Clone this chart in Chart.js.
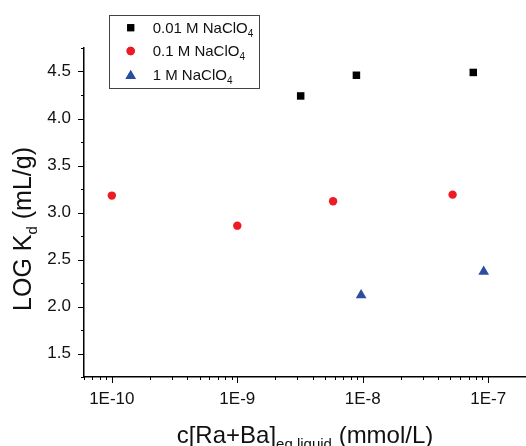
<!DOCTYPE html>
<html>
<head>
<meta charset="utf-8">
<script src="https://cdn.jsdelivr.net/npm/chart.js@4"></script>
<style>
  html, body { margin: 0; padding: 0; background: #fff; }
  canvas { display: block; }
</style>
</head>
<body>
<canvas id="chart" width="526" height="446"></canvas>
<script>
// ---- data ----
const conc001 = [3.2e-9, 8.9e-9, 7.6e-8];
const logKd001 = [4.24, 4.46, 4.49];
const conc01 = [1.0e-10, 1.0e-9, 5.8e-9, 5.2e-8];
const logKd01 = [3.18, 2.86, 3.12, 3.19];
const conc1 = [9.7e-9, 9.2e-8];
const logKd1 = [2.12, 2.37];

const xTicks = [1e-10, 1e-9, 1e-8, 1e-7];
const xTickLabels = ["1E-10", "1E-9", "1E-8", "1E-7"];
const yTicks = [1.5, 2.0, 2.5, 3.0, 3.5, 4.0, 4.5];

const seriesNames = ["0.01 M NaClO", "0.1 M NaClO", "1 M NaClO"];
const seriesColors = ["#000000", "#ed1c24", "#2b4ea0"];

const FONT = "'Liberation Sans', Arial, sans-serif";

function toPoints(xs, ys) {
  return xs.map((x, i) => ({ x: x, y: ys[i] }));
}

// axis tick marks (major + minor) and tick labels, drawn outward like the original
const tickMarks = {
  id: "tickMarks",
  afterDraw(chart) {
    const ctx = chart.ctx;
    const xs = chart.scales.x, ys = chart.scales.y;
    const area = chart.chartArea;
    ctx.save();
    ctx.strokeStyle = "#000";
    ctx.lineWidth = 1;
    // y ticks every 0.25
    for (let v = 1.25; v <= 4.751; v += 0.25) {
      const py = Math.round(ys.getPixelForValue(v)) + 0.5;
      const major = Math.abs(v * 2 - Math.round(v * 2)) < 1e-6;
      ctx.beginPath();
      ctx.moveTo(area.left, py);
      ctx.lineTo(area.left - (major ? 6 : 3), py);
      ctx.stroke();
    }
    // x ticks 1..9 per decade
    for (let e = -11; e <= -7; e++) {
      for (let m = 1; m <= 9; m++) {
        const v = m * Math.pow(10, e);
        if (v < xs.min * 0.999 || v > xs.max * 1.001) continue;
        const px = Math.round(xs.getPixelForValue(v)) + 0.5;
        ctx.beginPath();
        ctx.moveTo(px, area.bottom);
        ctx.lineTo(px, area.bottom + (m === 1 ? 6 : 3));
        ctx.stroke();
      }
    }
    // tick labels
    ctx.fillStyle = "#111";
    ctx.font = "17px " + FONT;
    ctx.textAlign = "center";
    ctx.textBaseline = "alphabetic";
    xTicks.forEach((v, i) => {
      ctx.fillText(xTickLabels[i], xs.getPixelForValue(v), area.bottom + 26.5);
    });
    ctx.textAlign = "right";
    ctx.textBaseline = "middle";
    yTicks.forEach(v => {
      ctx.fillText(v.toFixed(1), area.left - 13, ys.getPixelForValue(v));
    });
    ctx.restore();
  }
};

// axis titles with subscripts
const axisTitles = {
  id: "axisTitles",
  afterDraw(chart) {
    const ctx = chart.ctx;
    const area = chart.chartArea;
    ctx.save();
    ctx.fillStyle = "#111";
    ctx.textBaseline = "alphabetic";
    ctx.textAlign = "left";

    // x title: c[Ra+Ba]eq liquid (mmol/L)
    const big = "24px " + FONT, small = "15px " + FONT;
    ctx.font = big;
    const a = "c[Ra+Ba]", c = " (mmol/L)";
    const wa = ctx.measureText(a).width, wc = ctx.measureText(c).width;
    ctx.font = small;
    const b = "eq liquid";
    const wb = ctx.measureText(b).width;
    let x = (area.left + area.right) / 2 - (wa + wb + wc) / 2;
    const base = 443;
    ctx.font = big; ctx.fillText(a, x, base); x += wa;
    ctx.font = small; ctx.fillText(b, x, base + 6); x += wb;
    ctx.font = big; ctx.fillText(c, x, base);

    // y title: LOG Kd (mL/g)
    const bigY = "25px " + FONT;
    ctx.translate(31, 229);
    ctx.rotate(-Math.PI / 2);
    ctx.font = bigY;
    const ya = "LOG K", yc = " (mL/g)";
    const wya = ctx.measureText(ya).width, wyc = ctx.measureText(yc).width;
    ctx.font = small;
    const yb = "d";
    const wyb = ctx.measureText(yb).width;
    let t = -(wya + wyb + wyc) / 2;
    ctx.font = bigY; ctx.fillText(ya, t, 0); t += wya;
    ctx.font = small; ctx.fillText(yb, t, 6); t += wyb;
    ctx.font = bigY; ctx.fillText(yc, t, 0);
    ctx.restore();
  }
};

// legend box with subscript 4
const legendBox = {
  id: "legendBox",
  afterDraw(chart) {
    const ctx = chart.ctx;
    const styles = ["rect", "circle", "triangle"];
    const rows = [27.7, 51, 74.5];
    const radii = [5, 4.2, 6];
    ctx.save();
    ctx.strokeStyle = "#444";
    ctx.lineWidth = 1;
    ctx.strokeRect(109.5, 15.5, 150, 73);
    rows.forEach((ry, i) => {
      ctx.fillStyle = seriesColors[i];
      Chart.helpers.drawPoint(ctx, {
        pointStyle: styles[i], radius: radii[i], rotation: 0, borderWidth: 0
      }, 130.7, i === 2 ? ry + 1.5 : ry);
      ctx.fill();
      ctx.fillStyle = "#111";
      ctx.textBaseline = "alphabetic";
      ctx.textAlign = "left";
      ctx.font = "15px " + FONT;
      const label = seriesNames[i];
      ctx.fillText(label, 152.7, ry + 5);
      const w = ctx.measureText(label).width;
      ctx.font = "10px " + FONT;
      ctx.fillText("4", 152.7 + w, ry + 9);
    });
    ctx.restore();
  }
};

function makeDataset(label, xs, ys, style, color, radius) {
  return {
    label: label,
    data: toPoints(xs, ys),
    pointStyle: style,
    pointRadius: radius,
    pointHoverRadius: radius,
    backgroundColor: color,
    borderColor: color,
    pointBorderWidth: 0,
    showLine: false
  };
}

new Chart(document.getElementById("chart"), {
  type: "scatter",
  data: {
    datasets: [
      makeDataset(seriesNames[0], conc001, logKd001, "rect", seriesColors[0], 5.3),
      makeDataset(seriesNames[1], conc01, logKd01, "circle", seriesColors[1], 4.2),
      makeDataset(seriesNames[2], conc1, logKd1, "triangle", seriesColors[2], 6.2)
    ]
  },
  options: {
    responsive: false,
    animation: false,
    // no auto padding for point radius: the x axis runs to the canvas edge
    layout: { autoPadding: false, padding: { top: 48, right: 0, left: 0, bottom: 0 } },
    plugins: {
      legend: { display: false },
      tooltip: { enabled: false }
    },
    scales: {
      x: {
        type: "logarithmic",
        min: 6e-11,
        max: 2e-7,
        grid: { display: false },
        border: { display: true, color: "#000", width: 1.5 },
        afterFit(scale) { scale.height = 69; },
        ticks: { display: false }
      },
      y: {
        min: 1.25,
        max: 4.75,
        grid: { display: false },
        border: { display: true, color: "#000", width: 1.5 },
        afterFit(scale) { scale.width = 84; },
        ticks: { display: false }
      }
    }
  },
  plugins: [tickMarks, axisTitles, legendBox]
});
</script>
</body>
</html>
